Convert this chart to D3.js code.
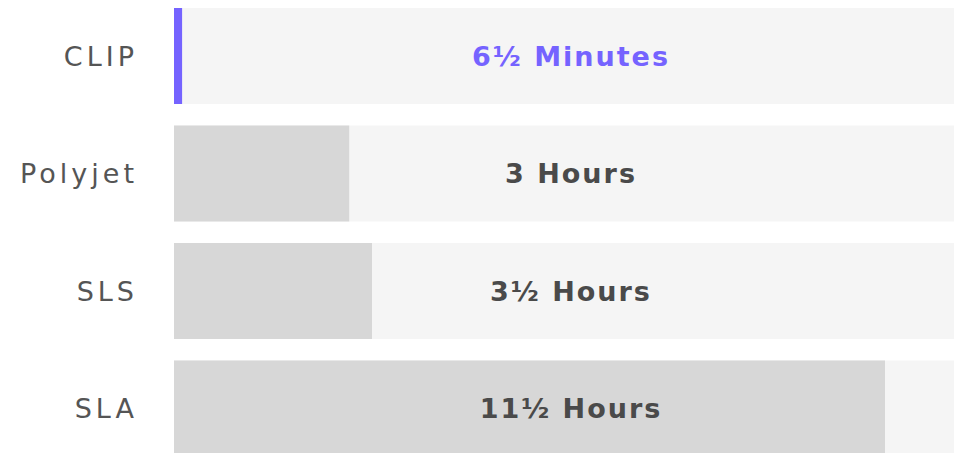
<!DOCTYPE html>
<html>
<head>
  <meta charset="utf-8">
  <title>Print time comparison</title>
  <style>
    body { margin: 0; background: #fff; }
    svg { display: block; }
  </style>
</head>
<body>
  <svg width="954" height="453"></svg>
  <script src="https://d3js.org/d3.v7.min.js"></script>
  <script>
    // data (bar lengths in hours)
    var categories = ["CLIP", "Polyjet", "SLS", "SLA"];
    var barHours = [0.135, 2.92, 3.3, 11.85];
    var valueLabels = ["6\u00BD Minutes", "3 Hours", "3\u00BD Hours", "11\u00BD Hours"];
    var highlight = ["CLIP"];

    var svg = d3.select("svg");
    var trackLeft = 174, trackRight = 954;

    var x = d3.scaleLinear().domain([0, 13]).range([trackLeft, trackRight]);
    var y = d3.scaleBand().domain(categories).range([8, 456.5]).paddingInner(0.183).paddingOuter(0);

    var rows = svg.selectAll("g.row")
      .data(categories)
      .enter()
      .append("g")
      .attr("class", "row");

    // background track
    rows.append("rect")
      .attr("x", trackLeft)
      .attr("y", function (d) { return y(d); })
      .attr("width", trackRight - trackLeft)
      .attr("height", y.bandwidth())
      .attr("fill", "#f5f5f5");

    // bar
    rows.append("rect")
      .attr("x", x(0))
      .attr("y", function (d) { return y(d); })
      .attr("width", function (d, i) { return x(barHours[i]) - x(0); })
      .attr("height", y.bandwidth())
      .attr("fill", function (d) { return highlight.indexOf(d) >= 0 ? "#7563ff" : "#d7d7d7"; });

    // category label
    rows.append("text")
      .attr("x", 138)
      .attr("y", function (d) { return y(d) + y.bandwidth() / 2; })
      .attr("dy", "0.36em")
      .attr("text-anchor", "end")
      .style("font-family", "'DejaVu Sans', sans-serif")
      .style("font-size", "27px")
      .style("letter-spacing", "4px")
      .attr("fill", "#555")
      .text(function (d) { return d; });

    // value label
    rows.append("text")
      .attr("x", 571)
      .attr("y", function (d) { return y(d) + y.bandwidth() / 2; })
      .attr("dy", "0.36em")
      .attr("text-anchor", "middle")
      .style("font-family", "'DejaVu Sans', sans-serif")
      .style("font-weight", "bold")
      .style("font-size", "27px")
      .style("letter-spacing", "2px")
      .attr("fill", function (d) { return highlight.indexOf(d) >= 0 ? "#7563ff" : "#4a4a4a"; })
      .text(function (d, i) { return valueLabels[i]; });
  </script>
</body>
</html>
